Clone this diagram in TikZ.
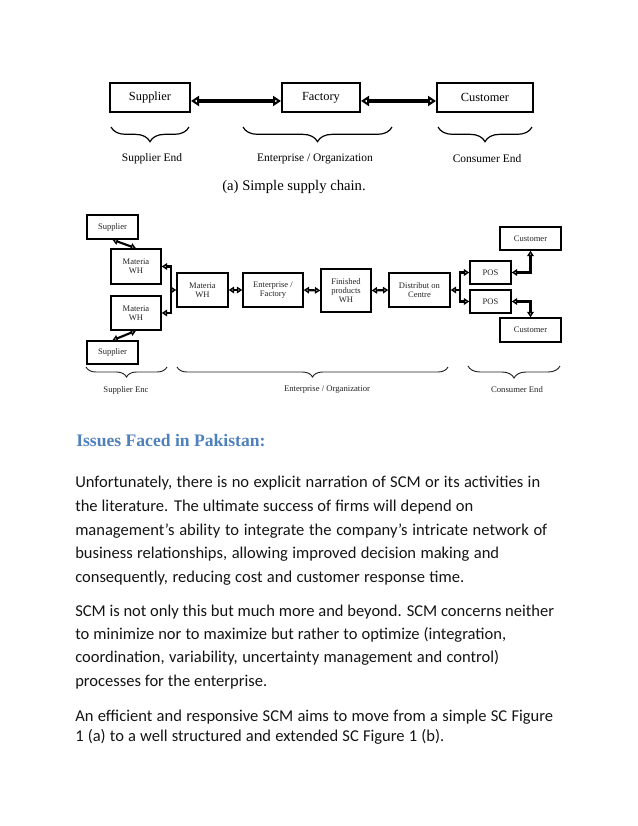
\documentclass[tikz,border=0pt]{standalone}
\usepackage{fontspec}
\setmainfont{Liberation Serif}
\newfontfamily\bodyfont{Carlito}
\newfontfamily\figfont{Liberation Serif}
\usetikzlibrary{arrows.meta,decorations.pathreplacing}
\definecolor{headblue}{RGB}{79,129,189}
\definecolor{dtext}{RGB}{35,35,35}
\definecolor{btext}{RGB}{20,20,20}
\begin{document}
\begin{tikzpicture}[x=0.75pt,y=-0.75pt,
  bigbox/.style={draw,line width=1.5pt,inner sep=0pt,font=\figfont\fontsize{9.3}{11}\selectfont},
  smallbox/.style={draw,line width=1.1pt,inner sep=0pt,align=center,text=dtext,
     font=\figfont\fontsize{6.4}{7}\selectfont},
  toparr/.style={line width=2.4pt,{Triangle[open,length=6pt,width=7.5pt]}-{Triangle[open,length=6pt,width=7.5pt]}},
  botarr/.style={line width=1.6pt,{Triangle[open,length=4pt,width=5pt]}-{Triangle[open,length=4pt,width=5pt]}},
  botend/.style={line width=1.6pt,-{Triangle[open,length=4pt,width=5pt]}},
  bbrace/.style={decorate,decoration={brace,mirror,amplitude=#1},line width=0.9pt},
  toplbl/.style={font=\figfont\fontsize{8.6}{10}\selectfont,inner sep=0pt},
  botlbl/.style={font=\figfont\fontsize{6.5}{8}\selectfont,inner sep=0pt,text=dtext},
  bodyline/.style={anchor=base west,inner sep=0pt,text=btext,
     font=\bodyfont\fontsize{12.4}{14}\selectfont}
]
\useasboundingbox (0,0) rectangle (638,826);

% ---------- (a) simple supply chain ----------
\node[bigbox,minimum width=60pt,minimum height=21.75pt] (sup) at (150,97.5) {Supplier};
\node[bigbox,minimum width=58.5pt,minimum height=21.75pt] (fac) at (321,97.5) {Factory};
\node[bigbox,minimum width=72pt,minimum height=21.75pt] (cus) at (485,97.5) {Customer};
\draw[toparr] ([yshift=-2.6pt]sup.east) -- ([yshift=-2.6pt]fac.west);
\draw[toparr] ([yshift=-2.6pt]fac.east) -- ([yshift=-2.6pt]cus.west);

\coordinate (ba1) at (111,127); \coordinate (bb1) at (189,127);
\coordinate (ba2) at (243,127); \coordinate (bb2) at (392,127);
\coordinate (ba3) at (438,127); \coordinate (bb3) at (532,127);
\draw[bbrace=11pt] (ba1) -- (bb1);
\draw[bbrace=11pt] (ba2) -- (bb2);
\draw[bbrace=11pt] (ba3) -- (bb3);
\node[toplbl] (l1) at (152,159) {Supplier End};
\node[toplbl] (l2) at (315,159) {Enterprise / Organization};
\node[toplbl] (l3) at (487,159) {Consumer End};
\node[font=\figfont\fontsize{11}{13}\selectfont,inner sep=0pt] (cap) at (294,187) {(a) Simple supply chain.};

% ---------- (b) extended supply chain ----------
\node[smallbox,minimum width=38.25pt,minimum height=18pt] (s1) at (112.5,227) {Supplier};
\node[smallbox,minimum width=37.5pt,minimum height=26.25pt] (m1) at (136,266.5) {Materia\\WH};
\node[smallbox,minimum width=37.5pt,minimum height=25.5pt] (m2) at (136,313) {Materia\\WH};
\node[smallbox,minimum width=38.25pt,minimum height=17.25pt] (s2) at (112.5,352.5) {Supplier};
\node[smallbox,minimum width=38.25pt,minimum height=25.5pt] (m3) at (202.5,290) {Materia\\WH};
\node[smallbox,minimum width=45pt,minimum height=25.5pt] (ef) at (273,290) {Enterprise /\\Factory};
\node[smallbox,minimum width=37.5pt,minimum height=32.25pt] (fp) at (346,290.5) {Finished\\products\\WH};
\node[smallbox,minimum width=45.75pt,minimum height=25.5pt] (dc) at (419.5,290) {Distribut on\\Centre};
\node[smallbox,minimum width=30.75pt,minimum height=17.25pt] (p1) at (490.5,272.5) {POS};
\node[smallbox,minimum width=30.75pt,minimum height=17.25pt] (p2) at (490.5,301.5) {POS};
\node[smallbox,minimum width=45.75pt,minimum height=17.25pt] (c1) at (530.5,238.5) {Customer};
\node[smallbox,minimum width=45.75pt,minimum height=18pt] (c2) at (530.5,330) {Customer};

\draw[botarr] (s1.south) -- (m1.north);
\draw[botarr] (s2.north) -- (m2.south);
\coordinate (j1) at (171,290);
\draw[botend] (j1) |- (m1.east);
\draw[botend] (j1) |- (m2.east);
\draw[botend] (j1) -- (m3.west);
\draw[botarr] (m3.east) -- (ef.west);
\draw[botarr] (ef.east) -- (fp.west);
\draw[botarr] (fp.east) -- (dc.west);
\coordinate (j2) at (460,290);
\draw[botend] (j2) -- (dc.east);
\draw[botend] (j2) |- (p1.west);
\draw[botend] (j2) |- (p2.west);
\draw[botarr] (p1.east) -| (c1.south);
\draw[botarr] (p2.east) -| (c2.north);

\coordinate (bc1) at (86,367);  \coordinate (bd1) at (167,367);
\coordinate (bc2) at (177,367); \coordinate (bd2) at (448,367);
\coordinate (bc3) at (468,366); \coordinate (bd3) at (560,366);
\draw[bbrace=7.5pt,line width=0.7pt,draw=dtext] (bc1) -- (bd1);
\draw[bbrace=7.5pt,line width=0.7pt,draw=dtext] (bc2) -- (bd2);
\draw[bbrace=9pt,line width=0.7pt,draw=dtext] (bc3) -- (bd3);
\node[botlbl] (m4) at (126,390) {Supplier Enc};
\node[botlbl] (m5) at (327,390) {Enterprise / Organizatior};
\node[botlbl] (m6) at (517,390) {Consumer End};

% ---------- text ----------
\node[anchor=base west,inner sep=0pt,text=headblue,font=\figfont\fontsize{13.2}{15}\selectfont\bfseries] (hd) at (76,446) {Issues Faced in Pakistan:};

\node[bodyline] (t1) at (75,487) {\makebox[348.75pt][s]{Unfortunately, there is no explicit narration of SCM or its activities in}};
\node[bodyline] (t2) at (75,511) {\makebox[298.5pt][s]{the literature. The ultimate success of firms will depend on}};
\node[bodyline] (t3) at (75,535) {\makebox[354pt][s]{management’s ability to integrate the company’s intricate network of}};
\node[bodyline] (t4) at (75,558) {\makebox[318pt][s]{business relationships, allowing improved decision making and}};
\node[bodyline] (t5) at (75,582) {\makebox[291.75pt][s]{consequently, reducing cost and customer response time.}};
\node[bodyline] (t6) at (75,616) {\makebox[359.25pt][s]{SCM is not only this but much more and beyond. SCM concerns neither}};
\node[bodyline] (t7) at (75,639) {\makebox[323.25pt][s]{to minimize nor to maximize but rather to optimize (integration,}};
\node[bodyline] (t8) at (75,662) {\makebox[318pt][s]{coordination, variability, uncertainty management and control)}};
\node[bodyline] (t9) at (75,686) {\makebox[144pt][s]{processes for the enterprise.}};
\node[bodyline] (t10) at (75,721) {\makebox[358.5pt][s]{An efficient and responsive SCM aims to move from a simple SC Figure}};
\node[bodyline] (t11) at (75,741) {\makebox[276.75pt][s]{1 (a) to a well structured and extended SC Figure 1 (b).}};
\end{tikzpicture}
\end{document}
